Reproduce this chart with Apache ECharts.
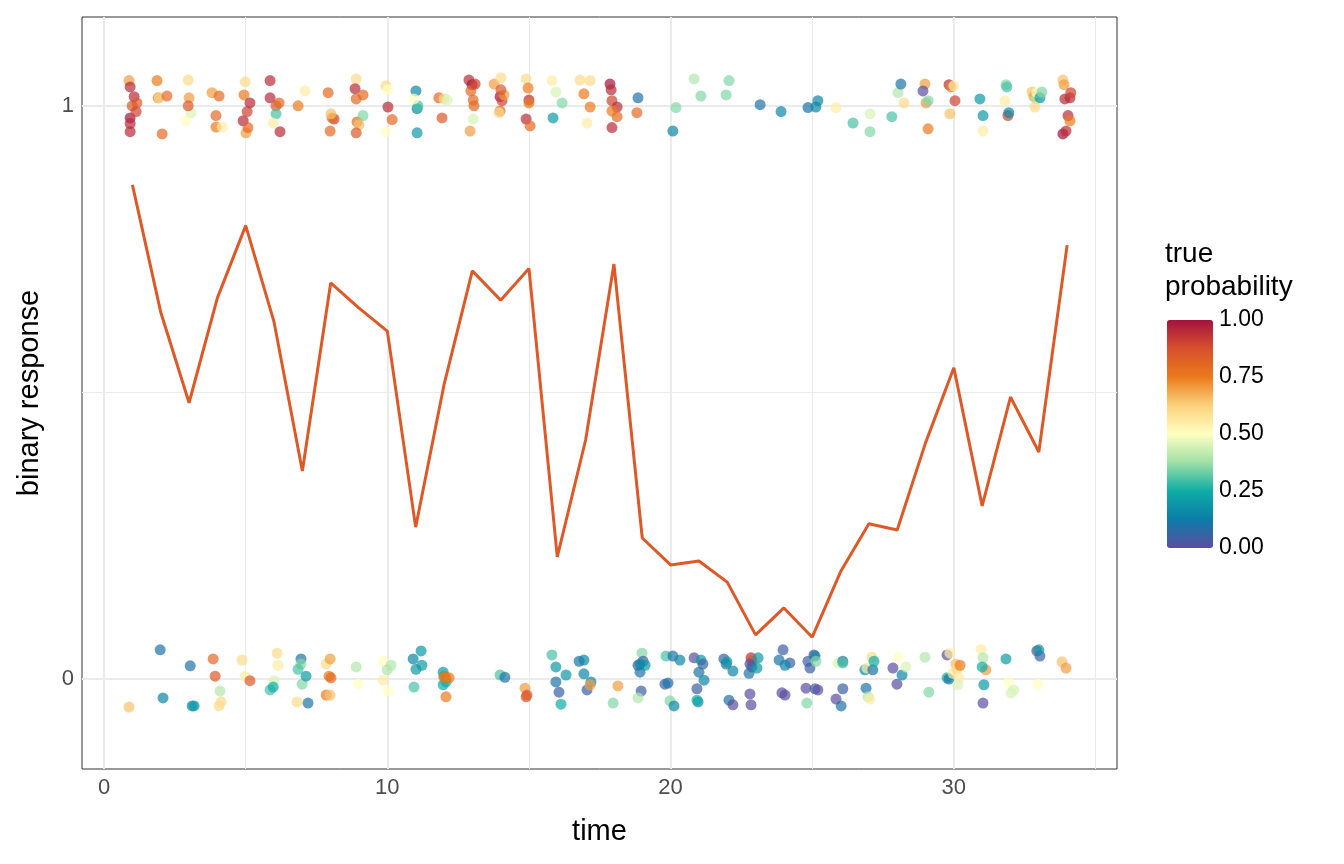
<!DOCTYPE html>
<html>
<head>
<meta charset="utf-8">
<script src="https://cdn.jsdelivr.net/npm/echarts@6/dist/echarts.min.js"></script>
<style>html,body{margin:0;padding:0;background:#fff}#chart{width:1344px;height:864px}</style>
</head>
<body>
<div id="chart"></div>
<script>
// time points and fitted probability line
var times = [];
for (var i = 1; i <= 34; i++) times.push(i);
var probLine = [0.862,0.640,0.482,0.665,0.791,0.623,0.363,0.691,0.647,0.607,0.265,0.513,0.712,0.661,0.716,0.213,0.417,0.724,0.246,0.199,0.206,0.169,0.077,0.124,0.073,0.187,0.271,0.260,0.412,0.543,0.302,0.492,0.396,0.757];

// jittered observations: [time, response, true probability]
var obsOnes = [
[0.88,1.044,0.7],[0.92,1.033,0.95],[0.99,1.0,0.85],[0.92,0.979,1.0],[0.92,0.969,0.95],[0.92,0.955,0.95],[1.06,1.016,0.95],[1.13,0.99,0.9],[1.16,1.005,0.85],
[1.87,1.044,0.75],[1.91,1.014,0.8],[2.05,0.951,0.8],[1.94,1.014,0.6],[2.22,1.017,0.8],
[2.97,1.045,0.6],[3.0,1.014,0.7],[2.89,0.974,0.5],[3.07,0.988,0.45],[2.97,1.0,0.85],
[3.81,1.023,0.7],[3.95,0.983,0.8],[4.06,1.017,0.8],[3.95,0.963,0.75],[4.17,0.963,0.55],
[4.94,1.019,0.75],[4.91,0.974,0.95],[5.01,0.953,0.7],[5.08,0.962,0.8],[5.05,0.99,0.9],[4.98,1.042,0.6],[5.15,1.005,0.95],
[5.86,1.044,0.95],[5.86,1.014,0.95],[6.07,1.0,0.85],[6.18,1.005,0.8],[6.21,0.955,0.95],[6.07,0.986,0.3],[5.97,0.97,0.55],
[6.85,1.0,0.75],[7.09,1.026,0.55],
[7.91,1.023,0.8],[8.12,0.977,0.9],[8.05,0.979,0.8],[7.98,0.956,0.8],[8.01,0.986,0.65],
[8.9,1.047,0.6],[8.86,1.03,0.95],[8.9,1.012,0.8],[8.93,0.972,0.8],[9.0,0.967,0.65],[8.9,0.953,0.85],[9.14,0.983,0.35],[9.14,1.019,0.8],
[9.95,1.035,0.6],[10.02,1.028,0.5],[10.02,0.998,0.95],[10.17,0.976,0.8],[9.95,0.955,0.5],
[11.01,1.026,0.15],[11.05,0.995,0.15],[11.08,1.0,0.3],[11.05,0.953,0.2],[10.94,1.012,0.5],
[11.82,1.014,0.8],[12.0,1.012,0.6],[11.93,0.979,0.85],[12.11,1.01,0.45],
[12.88,1.045,0.95],[12.99,1.037,1.0],[12.95,1.026,0.8],[13.03,1.01,0.8],[13.06,1.0,0.8],[13.03,0.977,0.45],[12.92,0.956,0.7],[13.1,1.038,0.9],
[13.77,1.038,0.7],[13.98,1.016,1.0],[14.05,1.009,0.9],[14.01,1.049,0.6],[13.98,0.991,0.8],[14.12,1.019,0.7],[14.01,1.028,0.85],[13.94,0.988,0.6],
[14.9,1.047,0.6],[14.97,1.031,0.75],[15.0,1.01,0.95],[14.9,0.977,0.95],[15.04,0.965,0.8],[15.0,1.005,0.75],
[15.81,1.044,0.55],[15.95,1.024,0.45],[15.85,0.979,0.2],[16.17,1.005,0.35],
[16.8,1.045,0.6],[16.94,1.021,0.75],[17.05,0.97,0.55],[17.16,1.044,0.6],[17.16,0.998,0.75],
[17.86,1.038,1.0],[17.9,1.028,0.95],[17.93,1.009,0.9],[17.93,0.962,0.95],[18.11,0.998,0.95],[18.11,0.981,0.8],[17.93,0.991,0.75],
[18.85,1.014,0.1],[18.81,0.988,0.8],
[20.08,0.956,0.15],[20.19,0.997,0.35],
[20.83,1.047,0.4],[21.07,1.017,0.35],
[21.96,1.019,0.35],[22.06,1.044,0.35],
[23.16,1.002,0.1],[23.9,0.99,0.15],
[24.85,0.997,0.1],[25.13,0.998,0.15],[25.2,1.009,0.15],
[25.84,0.997,0.55],[26.44,0.97,0.3],
[27.04,0.986,0.45],[27.04,0.955,0.35],
[27.81,0.981,0.3],[28.03,1.023,0.4],[28.13,1.038,0.1],[28.24,1.005,0.6],
[28.98,1.038,0.7],[28.91,1.026,0.0],[29.02,1.005,0.7],[29.09,1.009,0.35],[29.09,0.96,0.75],
[29.83,1.037,0.95],[29.9,1.033,0.75],[29.86,0.986,0.65],[30.0,1.035,0.55],[30.04,1.009,0.9],
[30.92,1.012,0.2],[31.03,0.983,0.2],[31.03,0.956,0.55],
[31.84,1.037,0.35],[31.87,1.033,0.3],[31.8,1.009,0.55],[31.91,0.983,0.9],[31.94,0.988,0.15],
[32.76,1.024,0.65],[32.83,1.016,0.7],[32.9,1.012,0.4],[32.93,1.023,0.5],[33.04,1.014,0.2],[33.11,1.024,0.35],[32.86,0.998,0.6],
[33.85,1.045,0.65],[33.89,1.037,0.7],[33.92,1.012,0.95],[34.1,1.014,0.95],[34.03,0.983,0.95],[34.1,0.974,0.75],[33.85,0.951,1.0],[33.96,0.956,0.95],[34.13,1.023,0.9]
];
var obsZeros = [
[0.88,-0.049,0.65],[1.98,0.051,0.1],[2.08,-0.033,0.15],[3.04,0.023,0.1],[3.11,-0.047,0.15],[3.18,-0.047,0.2],[3.85,0.035,0.8],[3.92,0.005,0.85],[4.06,-0.047,0.6],[4.09,-0.021,0.4],[4.13,-0.04,0.6],
[4.87,0.033,0.6],[4.98,0.005,0.55],[5.15,-0.003,0.85],
[6.0,-0.003,0.45],[6.11,0.045,0.6],[6.14,0.024,0.55],[5.86,-0.019,0.3],[5.97,-0.014,0.25],
[6.95,0.035,0.1],[6.99,-0.009,0.35],[6.95,0.026,0.35],[6.85,0.017,0.3],[6.81,-0.04,0.6],[7.2,-0.042,0.1],[7.13,0.005,0.2],
[7.84,0.026,0.6],[7.94,0.005,0.75],[7.84,-0.028,0.75],[7.98,0.035,0.7],[8.01,0.002,0.8],[7.98,-0.028,0.65],
[8.9,0.021,0.4],[8.97,-0.009,0.5],
[9.85,0.031,0.5],[9.85,-0.002,0.55],[9.99,0.016,0.4],[10.13,0.024,0.4],[10.02,-0.021,0.5],
[10.94,-0.014,0.3],[10.91,0.035,0.15],[11.01,0.017,0.2],[11.19,0.049,0.2],[11.22,0.024,0.2],
[11.97,0.012,0.2],[12.0,0.005,0.25],[12.07,-0.005,0.25],[12.07,0.002,0.8],[12.07,-0.031,0.75],[11.97,-0.01,0.25],[12.0,0.003,0.75],[12.18,0.002,0.75],
[13.98,0.007,0.3],[14.15,0.003,0.1],
[14.86,-0.016,0.7],[14.9,-0.031,0.85],[14.93,-0.028,0.85],
[15.81,0.042,0.3],[15.95,0.021,0.2],[15.95,-0.005,0.1],[16.06,-0.023,0.05],[16.13,-0.044,0.25],[16.31,0.007,0.2],
[16.77,0.031,0.1],[16.94,0.033,0.15],[16.94,0.009,0.15],[17.05,-0.019,0.05],[17.19,-0.005,0.15],[17.16,-0.01,0.7],
[17.97,-0.042,0.35],[18.14,-0.012,0.7],
[18.85,0.024,0.05],[18.92,0.012,0.1],[18.96,-0.021,0.05],[18.99,0.045,0.35],[19.03,0.031,0.05],[19.1,0.024,0.2],[18.92,0.026,0.15],[18.85,-0.033,0.4],
[19.8,-0.009,0.05],[19.84,0.04,0.3],[19.91,-0.007,0.1],[19.98,-0.038,0.35],[20.08,0.04,0.1],[20.12,-0.047,0.15],[20.33,0.033,0.15],
[20.83,0.037,0.0],[20.93,-0.017,0.05],[20.97,-0.04,0.15],[21.0,0.012,0.1],[21.18,-0.002,0.15],[21.07,0.033,0.2],[20.93,-0.037,0.25],[21.14,0.026,0.05],
[21.88,0.035,0.05],[21.96,0.026,0.1],[22.06,-0.037,0.1],[21.99,0.03,0.2],[22.2,0.014,0.15],[22.2,-0.045,0.0],
[22.84,0.037,0.95],[22.87,0.031,0.85],[22.8,0.026,0.0],[22.77,0.01,0.1],[22.84,-0.045,0.0],[22.8,-0.026,0.0],[22.87,0.021,0.05],[23.09,0.037,0.2],[23.05,0.019,0.2],
[23.97,0.051,0.05],[23.93,-0.024,0.0],[23.83,0.033,0.1],[24.04,-0.028,0.0],[24.21,0.028,0.05],[24.04,0.024,0.15],
[24.78,-0.016,0.0],[24.81,-0.042,0.35],[24.85,0.031,0.05],[24.92,0.019,0.05],[25.06,0.042,0.0],[25.1,-0.017,0.05],[25.1,0.04,0.15],[25.13,0.031,0.35],[25.2,-0.019,0.0],
[25.84,-0.035,0.0],[25.91,0.028,0.45],[26.08,0.031,0.1],[26.08,0.028,0.3],[26.02,-0.047,0.1],[26.08,-0.017,0.05],
[26.86,0.016,0.15],[26.9,-0.016,0.1],[26.97,-0.031,0.4],[26.93,0.019,0.55],[27.04,-0.035,0.55],[27.11,0.038,0.6],[27.14,0.016,0.1],[27.18,0.031,0.25],
[27.85,0.019,0.0],[27.99,-0.009,0.0],[28.17,0.007,0.15],[28.03,0.038,0.5],[28.31,0.021,0.45],
[28.98,0.038,0.4],[29.12,-0.023,0.35],
[29.76,0.042,0.0],[29.76,0.002,0.25],[29.83,0.0,0.1],[29.97,0.01,0.55],[30.07,0.026,0.65],[30.11,0.017,0.6],[30.18,0.002,0.55],[30.14,-0.01,0.45],[30.22,0.024,0.75],[29.86,0.045,0.55],
[30.96,0.052,0.55],[31.03,0.037,0.4],[31.06,-0.01,0.2],[31.03,-0.042,0.0],[31.13,0.016,0.7],[31.0,0.021,0.25],
[31.84,0.035,0.2],[31.94,-0.005,0.5],[32.02,-0.024,0.45],[32.12,-0.019,0.45],
[32.93,0.049,0.0],[33.04,0.04,0.05],[32.97,-0.009,0.5],[33.0,0.051,0.2],
[33.82,0.03,0.65],[33.96,0.019,0.7]
];

var xTicks = [0, 10, 20, 30];
var xMinorGrid = [5, 15, 25, 35];
var yTicks = [0, 1];
var yMinorGrid = [0.5];
var legendTicks = ['1.00', '0.75', '0.50', '0.25', '0.00'];
var palette = ['#5B4E9F','#0C7DA8','#0EADA5','#9FE0A6','#FFFFC0','#FBD27C','#EB7A1C','#D8502C','#A3123F'];

var chart = echarts.init(document.getElementById('chart'));
var font = 'Liberation Sans, Arial, sans-serif';

function gridLines(vals, axis, w) {
    return vals.map(function (v) {
        var o = {}; o[axis] = v;
        o.lineStyle = { color: '#EBEBEB', width: w, type: 'solid' };
        return o;
    });
}

var legendTop = 320, legendH = 228;
var graphics = [{
    type: 'text', left: 1165, top: 238,
    style: { text: 'true\nprobability', font: '28px ' + font, fill: '#000', lineHeight: 33 }
}];
legendTicks.forEach(function (t, i) {
    graphics.push({
        type: 'text', left: 1219, top: legendTop + i * legendH / 4 - 12,
        style: { text: t, font: '23px ' + font, fill: '#000' }
    });
});

var option = {
    animation: false,
    textStyle: { fontFamily: font },
    grid: { left: 82, top: 17, width: 1035, height: 752, show: true, borderColor: '#333', borderWidth: 1, backgroundColor: 'transparent' },
    xAxis: {
        type: 'value', min: -0.78, max: 35.76,
        name: 'time', nameLocation: 'middle', nameGap: 48,
        nameTextStyle: { fontSize: 29, color: '#000' },
        axisLine: { show: false },
        axisTick: { show: true, customValues: xTicks, length: 6, lineStyle: { color: '#333' } },
        axisLabel: { customValues: xTicks, fontSize: 22, color: '#4D4D4D', margin: 8 },
        splitLine: { show: false }
    },
    yAxis: {
        type: 'value', min: -0.157, max: 1.155,
        name: 'binary response', nameLocation: 'middle', nameGap: 38,
        nameTextStyle: { fontSize: 29, color: '#000' },
        axisLine: { show: false },
        axisTick: { show: true, customValues: yTicks, length: 6, lineStyle: { color: '#333' } },
        axisLabel: { customValues: yTicks, fontSize: 22, color: '#4D4D4D', margin: 8 },
        splitLine: { show: false }
    },
    visualMap: {
        type: 'continuous', min: 0, max: 1, dimension: 2, seriesIndex: [0, 1],
        left: 1152, top: legendTop - 15, itemWidth: 46, itemHeight: legendH,
        text: null, showLabel: false, calculable: false, realtime: false,
        inRange: { color: palette }
    },
    graphic: graphics,
    series: [
        {
            type: 'scatter', data: obsOnes, symbolSize: 11, z: 3,
            itemStyle: { opacity: 0.7 },
            markLine: {
                silent: true, symbol: 'none', label: { show: false }, z: 1,
                data: gridLines(xMinorGrid, 'xAxis', 1).concat(gridLines(yMinorGrid, 'yAxis', 1))
                    .concat(gridLines(xTicks, 'xAxis', 2)).concat(gridLines(yTicks, 'yAxis', 2))
            }
        },
        { type: 'scatter', data: obsZeros, symbolSize: 11, z: 3, itemStyle: { opacity: 0.7 } },
        {
            type: 'line', data: times.map(function (t, i) { return [t, probLine[i]]; }),
            showSymbol: false, z: 4,
            lineStyle: { color: '#DD5928', width: 3 }
        }
    ]
};
chart.setOption(option);
</script>
</body>
</html>
